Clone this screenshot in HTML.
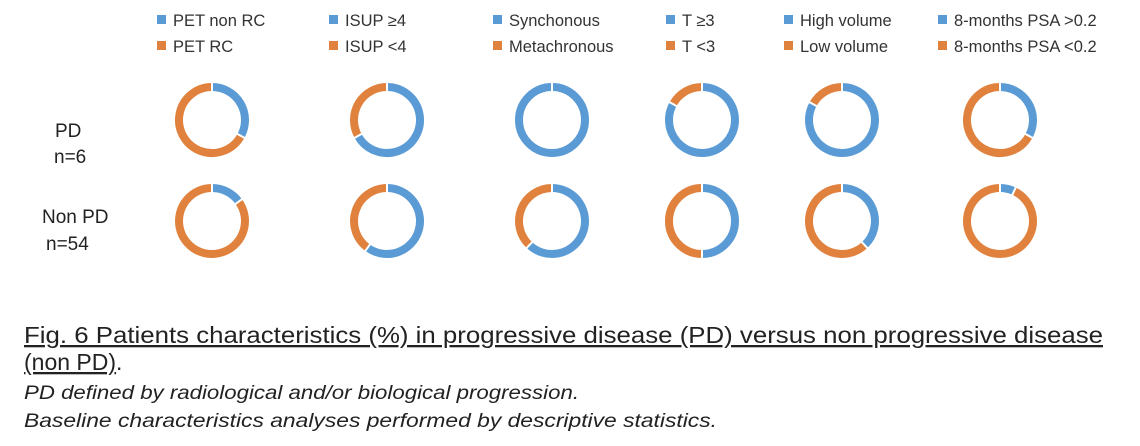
<!DOCTYPE html>
<html><head><meta charset="utf-8"><style>
html,body{margin:0;padding:0;background:#fff;}
svg{display:block;font-family:"Liberation Sans",sans-serif;}
</style></head><body>
<svg id="chart" width="1140" height="446" viewBox="0 0 1140 446">
<g id="legend"></g>
<g id="rows">
<text x="55" y="137" font-size="19" fill="#222">PD</text>
<text x="54" y="163" font-size="19" fill="#222">n=6</text>
<text x="42" y="223" font-size="19" fill="#222">Non PD</text>
<text x="46" y="250" font-size="19" fill="#222">n=54</text>
</g>
<g id="donuts"></g>
<g>
<text x="24" y="343" font-size="23" fill="#222" textLength="1079" lengthAdjust="spacingAndGlyphs" text-decoration="underline">Fig. 6 Patients characteristics (%) in progressive disease (PD) versus non progressive disease</text>
<text x="24" y="370" font-size="23" fill="#222"><tspan text-decoration="underline">(non PD)</tspan>.</text>
<text x="24" y="399" font-size="19" font-style="italic" fill="#222" textLength="555" lengthAdjust="spacingAndGlyphs">PD defined by radiological and/or biological progression.</text>
<text x="24" y="427" font-size="19" font-style="italic" fill="#222" textLength="693" lengthAdjust="spacingAndGlyphs">Baseline characteristics  analyses performed by descriptive statistics.</text>
</g>
</svg>
<script>
const categories = ["PET", "ISUP", "Timing", "T stage", "Volume", "8-months PSA"];
const blueLabels = ["PET non RC", "ISUP \u22654", "Synchonous", "T \u22653", "High volume", "8-months PSA >0.2"];
const orangeLabels = ["PET RC", "ISUP <4", "Metachronous", "T <3", "Low volume", "8-months PSA <0.2"];
const groups = ["PD", "Non PD"];
const pdBlue = [0.33, 0.67, 1.0, 0.83, 0.83, 0.33];
const nonPdBlue = [0.15, 0.6, 0.62, 0.5, 0.38, 0.07];

const NS = "http://www.w3.org/2000/svg";
const BLUE = "#5b9bd5", ORANGE = "#e0813d";
const colX = i => [212, 387, 552, 702, 842, 1000][i];
const rowY = r => [120, 221][r];
const legendX = i => [157, 329, 493, 666, 784, 938][i];
const R = 33, W = 8;

const legend = document.getElementById('legend');
function addLegend(x, y, color, label, nm) {
  const r = document.createElementNS(NS, 'rect');
  r.setAttribute('x', x); r.setAttribute('y', y - 5); r.setAttribute('width', 9); r.setAttribute('height', 9);
  r.setAttribute('fill', color);
  
  
  legend.appendChild(r);
  const t = document.createElementNS(NS, 'text');
  t.setAttribute('x', x + 16); t.setAttribute('y', y + 6);
  t.setAttribute('font-size', '16.5'); t.setAttribute('fill', '#333');
  t.textContent = label;
  
  
  legend.appendChild(t);
}
categories.forEach((c, i) => {
  addLegend(legendX(i), 20, BLUE, blueLabels[i], 'legend-entry-blue-' + (i + 1));
  addLegend(legendX(i), 46, ORANGE, orangeLabels[i], 'legend-entry-orange-' + (i + 1));
});

const donuts = document.getElementById('donuts');
function arcPath(cx, cy, r, a0, a1) {
  const p = a => [cx + r * Math.sin(a), cy - r * Math.cos(a)];
  const [x0, y0] = p(a0), [x1, y1] = p(a1);
  const large = (a1 - a0) > Math.PI ? 1 : 0;
  return `M${x0} ${y0} A${r} ${r} 0 ${large} 1 ${x1} ${y1}`;
}
function drawSeg(cx, cy, f0, f1, color, nm) {
  if (f1 - f0 <= 0.0001) return;
  let el;
  if (f1 - f0 >= 0.9999) {
    el = document.createElementNS(NS, 'circle');
    el.setAttribute('cx', cx); el.setAttribute('cy', cy); el.setAttribute('r', R);
  } else {
    el = document.createElementNS(NS, 'path');
    el.setAttribute('d', arcPath(cx, cy, R, f0 * 2 * Math.PI, f1 * 2 * Math.PI));
  }
  el.setAttribute('fill', 'none'); el.setAttribute('stroke', color); el.setAttribute('stroke-width', W);
  
  
  donuts.appendChild(el);
}
function drawSep(cx, cy, f) {
  const a = f * 2 * Math.PI;
  const l = document.createElementNS(NS, 'line');
  l.setAttribute('x1', cx + (R - W) * Math.sin(a)); l.setAttribute('y1', cy - (R - W) * Math.cos(a));
  l.setAttribute('x2', cx + (R + W) * Math.sin(a)); l.setAttribute('y2', cy - (R + W) * Math.cos(a));
  l.setAttribute('stroke', '#fff'); l.setAttribute('stroke-width', 2);
  donuts.appendChild(l);
}
[pdBlue, nonPdBlue].forEach((vals, r) => {
  vals.forEach((v, i) => {
    const cx = colX(i), cy = rowY(r);
    const g = r === 0 ? 'pd' : 'non-pd';
    drawSeg(cx, cy, 0, v, BLUE, 'donut-' + g + '-' + (i + 1) + '-blue');
    drawSeg(cx, cy, v, 1, ORANGE, 'donut-' + g + '-' + (i + 1) + '-orange');
    drawSep(cx, cy, 0);
    if (v > 0 && v < 1) drawSep(cx, cy, v);
  });
});
</script>
</body></html>
